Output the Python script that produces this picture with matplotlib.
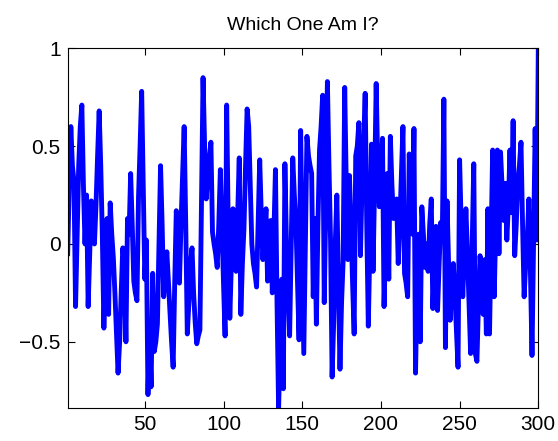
import numpy as np
import matplotlib
matplotlib.use("Agg")
import matplotlib.pyplot as plt

# signal, 300 echantillons
signal = [
    -0.05, 0.30, 0.60, 0.40, 0.32, -0.32, 0.05, 0.40, 0.60, 0.71,
    0.30, 0.00, 0.25, -0.32, -0.05, 0.22, 0.10, 0.00, 0.20, 0.45,
    0.68, 0.40, 0.05, -0.43, -0.10, 0.13, -0.36, 0.21, 0.05, -0.07,
    -0.25, -0.45, -0.66, -0.50, -0.25, -0.02, -0.10, -0.50, 0.13, 0.05,
    0.36, 0.10, -0.19, -0.25, -0.29, 0.24, 0.50, 0.78, 0.30, -0.18,
    0.02, -0.77, -0.45, -0.73, -0.15, -0.55, -0.50, -0.41, 0.00, 0.40,
    0.10, -0.27, -0.15, -0.04, -0.20, -0.35, -0.50, -0.63, -0.20, 0.17,
    0.00, -0.20, 0.10, 0.35, 0.60, 0.10, -0.46, -0.30, -0.10, -0.02,
    -0.25, -0.40, -0.51, -0.47, -0.44, 0.20, 0.85, 0.50, 0.23, 0.35,
    0.44, 0.52, 0.06, 0.00, -0.05, -0.12, 0.10, 0.38, 0.10, -0.20,
    -0.47, 0.71, 0.10, -0.38, -0.10, 0.18, 0.05, -0.14, 0.15, 0.44,
    -0.36, -0.10, 0.08, 0.40, 0.69, 0.60, 0.30, 0.00, -0.10, -0.15,
    -0.22, 0.10, 0.43, 0.15, -0.08, 0.05, 0.18, -0.19, 0.00, 0.12,
    -0.25, 0.05, 0.38, -0.30, -0.84, -0.50, -0.18, -0.74, 0.41, 0.00,
    -0.25, -0.47, 0.00, 0.44, 0.25, 0.11, -0.20, -0.49, 0.58, 0.00,
    -0.56, 0.00, 0.55, 0.45, 0.40, 0.36, -0.27, 0.13, -0.41, 0.10,
    0.48, 0.60, 0.76, -0.30, 0.20, 0.83, 0.40, 0.02, -0.68, -0.40,
    0.00, 0.25, -0.20, -0.64, -0.30, -0.09, 0.80, 0.30, -0.08, 0.35,
    0.10, -0.20, -0.46, 0.45, 0.50, 0.62, -0.06, 0.30, 0.50, 0.77,
    0.10, -0.42, 0.00, 0.51, -0.14, 0.30, 0.82, 0.40, 0.19, 0.35,
    0.54, -0.32, 0.00, 0.36, -0.18, 0.55, 0.30, 0.13, 0.18, 0.23,
    -0.10, 0.10, 0.35, 0.60, -0.15, -0.20, -0.27, 0.46, 0.20, 0.05,
    0.59, -0.66, -0.20, 0.05, -0.50, 0.19, 0.05, -0.12, 0.00, -0.14,
    0.10, 0.23, -0.33, -0.10, 0.09, -0.34, -0.10, 0.11, 0.03, 0.74,
    -0.53, 0.22, -0.10, -0.39, -0.20, -0.10, -0.26, -0.45, -0.63, 0.43,
    0.10, -0.27, -0.05, 0.18, -0.05, -0.30, -0.56, 0.00, 0.41, -0.56,
    -0.60, -0.30, -0.06, -0.20, -0.36, -0.08, -0.46, 0.18, -0.46, 0.02,
    0.48, -0.27, 0.10, 0.48, -0.05, 0.47, 0.30, 0.12, 0.31, 0.02,
    0.20, 0.48, 0.16, 0.63, -0.06, 0.10, 0.32, 0.40, 0.52, 0.10,
    -0.27, -0.10, 0.02, 0.23, -0.14, -0.57, 0.03, 0.59, 0.02, 1.00,
]
n = np.arange(1, len(signal) + 1)

xticks = [50, 100, 150, 200, 250, 300]
yticks = [-0.5, 0, 0.5, 1]
yticklabels = ["\u22120.5", "0", "0.5", "1"]

plt.rcParams['font.family'] = ['Liberation Sans', 'DejaVu Sans']

fig = plt.figure(figsize=(5.58, 4.41), dpi=100)
ax = fig.add_axes([0.1213, 0.0741, 0.8434, 0.8164])
ax.plot(n, signal, color=(0, 0, 1), linewidth=3.5, solid_joinstyle='round')
ax.set_xlim(1, 300)
ax.set_ylim(min(signal), max(signal))
ax.set_xticks(xticks)
ax.set_yticks(yticks)
ax.set_yticklabels(yticklabels)
ax.tick_params(direction='in', top=True, right=True, length=5, width=0.8,
               labelsize=15, pad=5)
for s in ax.spines.values():
    s.set_linewidth(0.8)
ax.set_title("Which One Am I?", fontsize=14, pad=13)

fig.savefig("out.png", dpi=100)
